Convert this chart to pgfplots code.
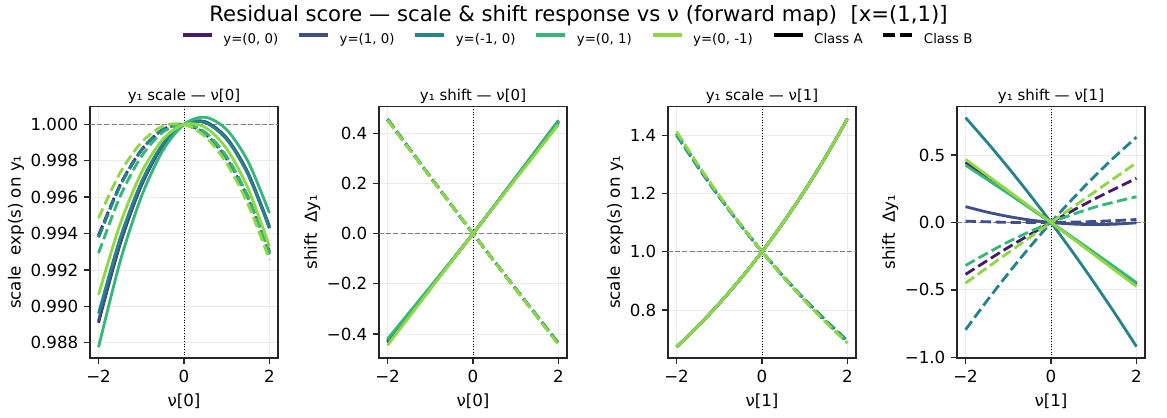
\documentclass[border=0pt]{standalone}
\usepackage{fontspec}
\setmainfont{DejaVu Sans}
\usepackage{pgfplots}
\pgfplotsset{compat=1.18}
\definecolor{c0}{HTML}{481A6C}
\definecolor{c1}{HTML}{3E4F8A}
\definecolor{c2}{HTML}{25838E}
\definecolor{c3}{HTML}{35B779}
\definecolor{c4}{HTML}{8FD744}
\pgfplotsset{
 every axis title/.style={at={(0.5,1)}, anchor=base, yshift=3.4pt, inner sep=0pt},
 panel/.style={
  scale only axis, width=112.8pt, height=151pt,
  xmin=-2.2, xmax=2.2, xtick={-2,0,2}, xticklabels={−2,0,2},
  tick pos=left, tick align=outside, major tick length=3.5pt,
  grid=major, grid style={line width=0.5pt, black!8},
  axis line style={line width=0.8pt, black!85},
  every tick/.style={line width=0.8pt, black!85},
  tick label style={font=\fontsize{10}{12}\selectfont},
  label style={font=\fontsize{10}{12}\selectfont},
  title style={font=\fontsize{9}{11}\selectfont},
  ylabel shift=-3pt,
  scaled y ticks=false,
  anchor=south west,
 },
 sA/.style={line width=1.7pt, smooth, forget plot},
 sB/.style={line width=1.7pt, smooth, forget plot, dash pattern=on 6.3pt off 2.7pt},
 hline/.style={forget plot, line width=0.8pt, black!50, dash pattern=on 3pt off 1.3pt},
 vline/.style={forget plot, line width=0.6pt, black, dash pattern=on 0.6pt off 1pt},
}
\begin{document}
\begin{tikzpicture}
\path[use as bounding box] (0pt,0pt) rectangle (700.2pt,250.2pt);
\node[anchor=base, font=\fontsize{12.7}{15}\selectfont] at (347.1pt,237.2pt) {Residual score — scale \& shift response vs ν (forward map)\ \ [x=(1,1)]};

% Panel 1
\begin{axis}[panel, at={(54pt,35.4pt)},
  ymin=0.98716, ymax=1.00099,
  ytick={0.988,0.990,0.992,0.994,0.996,0.998,1.000},
  yticklabels={0.988,0.990,0.992,0.994,0.996,0.998,1.000},
  title={y₁ scale — ν[0]}, xlabel={ν[0]}, ylabel={scale\ \ exp(s) on y₁},
  legend columns=7,
  legend style={at={(2.589,1.264)}, anchor=center, draw=none, fill=none,
    font=\fontsize{8}{9.6}\selectfont,
    nodes={inner sep=0pt},
    /tikz/every odd column/.append style={column sep=5.8pt},
    /tikz/every even column/.append style={column sep=11.4pt}},
  legend image code/.code={\draw[#1] (0pt,2.8pt) -- (17.4pt,2.8pt);},
]
\addlegendimage{c0, line width=2.2pt}\addlegendentry{y=(0, 0)}
\addlegendimage{c1, line width=2.2pt}\addlegendentry{y=(1, 0)}
\addlegendimage{c2, line width=2.2pt}\addlegendentry{y=(-1, 0)}
\addlegendimage{c3, line width=2.2pt}\addlegendentry{y=(0, 1)}
\addlegendimage{c4, line width=2.2pt}\addlegendentry{y=(0, -1)}
\addlegendimage{black, line width=2.2pt}\addlegendentry{Class A}
\addlegendimage{black, line width=2.2pt, dash pattern=on 7pt off 3pt}\addlegendentry{Class B}
\addplot[hline] coordinates {(-2.2,1) (2.2,1)};
\addplot[vline] coordinates {(0,0.98716) (0,1.00099)};
\addplot[c0,sA] coordinates {(-2,0.9891) (-1.5,0.993381) (-1,0.996625) (-0.5,0.998831) (0,1) (0.5,1.000131) (1,0.999225) (1.5,0.997281) (2,0.9943)};
\addplot[c0,sB] coordinates {(-2,0.9939) (-1.5,0.996653) (-1,0.998588) (-0.5,0.999703) (0,1) (0.5,0.999478) (1,0.998138) (1.5,0.995978) (2,0.9930)};
\addplot[c1,sA] coordinates {(-2,0.9892) (-1.5,0.993437) (-1,0.99665) (-0.5,0.998837) (0,1) (0.5,1.000137) (1,0.99925) (1.5,0.997338) (2,0.9944)};
\addplot[c1,sB] coordinates {(-2,0.9938) (-1.5,0.996597) (-1,0.998563) (-0.5,0.999697) (0,1) (0.5,0.999472) (1,0.998113) (1.5,0.995922) (2,0.9929)};
\addplot[c2,sA] coordinates {(-2,0.9896) (-1.5,0.99371) (-1,0.996813) (-0.5,0.99891) (0,1) (0.5,1.000084) (1,0.999163) (1.5,0.997234) (2,0.9943)};
\addplot[c2,sB] coordinates {(-2,0.9938) (-1.5,0.996606) (-1,0.998575) (-0.5,0.999706) (0,1) (0.5,0.999456) (1,0.998075) (1.5,0.995856) (2,0.9928)};
\addplot[c3,sA] coordinates {(-2,0.98775) (-1.5,0.992418) (-1,0.996015) (-0.5,0.998543) (0,1) (0.5,1.000388) (1,0.999705) (1.5,0.997953) (2,0.99513)};
\addplot[c3,sB] coordinates {(-2,0.99292) (-1.5,0.996012) (-1,0.998228) (-0.5,0.999557) (0,1) (0.5,0.999557) (1,0.998228) (1.5,0.996012) (2,0.9929)};
\addplot[c4,sA] coordinates {(-2,0.99063) (-1.5,0.99448) (-1,0.997325) (-0.5,0.999165) (0,1) (0.5,0.99983) (1,0.998655) (1.5,0.996475) (2,0.99329)};
\addplot[c4,sB] coordinates {(-2,0.99485) (-1.5,0.997318) (-1,0.998999) (-0.5,0.999893) (0,1) (0.5,0.99932) (1,0.997854) (1.5,0.9956) (2,0.99256)};
\end{axis}

% Panel 2
\begin{axis}[panel, at={(227.4pt,35.4pt)},
  ymin=-0.496, ymax=0.508,
  ytick={-0.4,-0.2,0,0.2,0.4},
  yticklabels={−0.4,−0.2,0.0,0.2,0.4},
  title={y₁ shift — ν[0]}, xlabel={ν[0]}, ylabel={shift\ \ Δy₁},
]
\addplot[hline] coordinates {(-2.2,0) (2.2,0)};
\addplot[vline] coordinates {(0,-0.496) (0,0.508)};
\addplot[c0,sA] coordinates {(-2,-0.435) (0,0) (2,0.445)};
\addplot[c0,sB] coordinates {(-2,0.455) (0,0) (2,-0.44)};
\addplot[c1,sA] coordinates {(-2,-0.43) (0,0) (2,0.448)};
\addplot[c1,sB] coordinates {(-2,0.456) (0,0) (2,-0.438)};
\addplot[c2,sA] coordinates {(-2,-0.425) (0,0) (2,0.452)};
\addplot[c2,sB] coordinates {(-2,0.457) (0,0) (2,-0.436)};
\addplot[c3,sA] coordinates {(-2,-0.42) (0,0) (2,0.45)};
\addplot[c3,sB] coordinates {(-2,0.455) (0,0) (2,-0.44)};
\addplot[c4,sA] coordinates {(-2,-0.445) (0,0) (2,0.435)};
\addplot[c4,sB] coordinates {(-2,0.452) (0,0) (2,-0.442)};
\end{axis}

% Panel 3
\begin{axis}[panel, at={(400.8pt,35.4pt)},
  ymin=0.635, ymax=1.499,
  ytick={0.8,1.0,1.2,1.4},
  yticklabels={0.8,1.0,1.2,1.4},
  title={y₁ scale — ν[1]}, xlabel={ν[1]}, ylabel={scale\ \ exp(s) on y₁},
]
\addplot[hline] coordinates {(-2.2,1) (2.2,1)};
\addplot[vline] coordinates {(0,0.635) (0,1.499)};
\addplot[c0,sA] coordinates {(-2,0.673) (-1.5,0.7445) (-1,0.8224) (-0.5,0.9075) (0,1) (0.5,1.1007) (1,1.2099) (1.5,1.3283) (2,1.4565)};
\addplot[c0,sB] coordinates {(-2,1.405) (-1.5,1.2942) (-1,1.19) (-0.5,1.0919) (0,1) (0.5,0.914) (1,0.8338) (1.5,0.7592) (2,0.69)};
\addplot[c1,sA] coordinates {(-2,0.673) (-1.5,0.7445) (-1,0.8224) (-0.5,0.9075) (0,1) (0.5,1.1007) (1,1.2099) (1.5,1.3283) (2,1.4565)};
\addplot[c1,sB] coordinates {(-2,1.405) (-1.5,1.2942) (-1,1.19) (-0.5,1.0919) (0,1) (0.5,0.914) (1,0.8338) (1.5,0.7592) (2,0.69)};
\addplot[c2,sA] coordinates {(-2,0.673) (-1.5,0.7445) (-1,0.8224) (-0.5,0.9075) (0,1) (0.5,1.1007) (1,1.2099) (1.5,1.3283) (2,1.4565)};
\addplot[c2,sB] coordinates {(-2,1.3993) (-1.5,1.29) (-1,1.1871) (-0.5,1.0905) (0,1) (0.5,0.9154) (1,0.8365) (1.5,0.7631) (2,0.6949)};
\addplot[c3,sA] coordinates {(-2,0.673) (-1.5,0.7445) (-1,0.8224) (-0.5,0.9075) (0,1) (0.5,1.1007) (1,1.2099) (1.5,1.3283) (2,1.4565)};
\addplot[c3,sB] coordinates {(-2,1.405) (-1.5,1.2942) (-1,1.19) (-0.5,1.0919) (0,1) (0.5,0.914) (1,0.8338) (1.5,0.7592) (2,0.69)};
\addplot[c4,sA] coordinates {(-2,0.673) (-1.5,0.7445) (-1,0.8224) (-0.5,0.9075) (0,1) (0.5,1.1007) (1,1.2099) (1.5,1.3283) (2,1.4565)};
\addplot[c4,sB] coordinates {(-2,1.4126) (-1.5,1.2995) (-1,1.1932) (-0.5,1.0934) (0,1) (0.5,0.9128) (1,0.8316) (1.5,0.7561) (2,0.6862)};
\end{axis}

% Panel 4
\begin{axis}[panel, at={(574.2pt,35.4pt)},
  ymin=-1.006, ymax=0.862,
  ytick={-1,-0.5,0,0.5},
  yticklabels={−1.0,−0.5,0.0,0.5},
  title={y₁ shift — ν[1]}, xlabel={ν[1]}, ylabel={shift\ \ Δy₁},
]
\addplot[hline] coordinates {(-2.2,0) (2.2,0)};
\addplot[vline] coordinates {(0,-1.006) (0,0.862)};
\addplot[c0,sA] coordinates {(-2,0.445) (-1,0.224) (0,0) (1,-0.227) (2,-0.457)};
\addplot[c0,sB] coordinates {(-2,-0.385) (-1,-0.185) (0,0) (1,0.171) (2,0.328)};
\addplot[c1,sA] coordinates {(-2,0.1176) (-1.5,0.0774) (-1,0.0444) (-0.5,0.0186) (0,0) (0.5,-0.0114) (1,-0.0156) (1.5,-0.0126) (2,-0.0024)};
\addplot[c1,sB] coordinates {(-2,0.010) (-1,0.001) (0,0) (1,0.007) (2,0.022)};
\addplot[c2,sA] coordinates {(-2,0.778) (-1.5,0.5969) (-1,0.4069) (-0.5,0.2079) (0,0) (0.5,-0.2169) (1,-0.4426) (1.5,-0.6773) (2,-0.921)};
\addplot[c2,sB] coordinates {(-2,-0.796) (-1.5,-0.5818) (-1,-0.3777) (-0.5,-0.1837) (0,0) (0.5,0.1735) (1,0.3369) (1.5,0.49) (2,0.633)};
\addplot[c3,sA] coordinates {(-2,0.425) (-1,0.2153) (0,0) (1,-0.2208) (2,-0.447)};
\addplot[c3,sB] coordinates {(-2,-0.319) (-1,-0.1435) (0,0) (1,0.1115) (2,0.191)};
\addplot[c4,sA] coordinates {(-2,0.468) (-1,0.2349) (0,0) (1,-0.2367) (2,-0.475)};
\addplot[c4,sB] coordinates {(-2,-0.45) (-1,-0.2243) (0,0) (1,0.2223) (2,0.443)};
\end{axis}
\end{tikzpicture}
\end{document}
